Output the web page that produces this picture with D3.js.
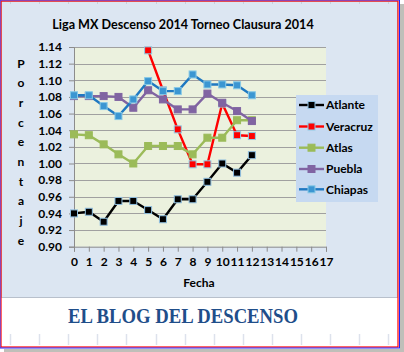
<!DOCTYPE html>
<html><head><meta charset="utf-8">
<script src="https://cdn.jsdelivr.net/npm/d3@7"></script>
<style>html,body{margin:0;padding:0;background:#fff;}svg{display:block;}</style>
</head><body>
<svg id="c" width="404" height="352"></svg>
<script>
const fechas = [0,1,2,3,4,5,6,7,8,9,10,11,12];
const atlante  = [0.940,0.942,0.930,0.955,0.955,0.944,0.933,0.957,0.957,0.978,1.000,0.989,1.010];
const veracruz = [null,null,null,null,null,1.136,1.088,1.041,0.999,0.999,1.072,1.034,1.033];
const atlas    = [1.035,1.034,1.023,1.011,1.000,1.021,1.021,1.021,1.011,1.031,1.031,1.052,1.052];
const puebla   = [1.081,1.081,1.081,1.080,1.067,1.088,1.077,1.065,1.065,1.084,1.073,1.063,1.051];
const chiapas  = [1.082,1.082,1.069,1.057,1.077,1.099,1.087,1.087,1.107,1.095,1.095,1.094,1.082];
const seriesNames = ["Atlante","Veracruz","Atlas","Puebla","Chiapas"];
const xTicks = [0,1,2,3,4,5,6,7,8,9,10,11,12,13,14,15,16,17];
const yTicks = [0.90,0.92,0.94,0.96,0.98,1.00,1.02,1.04,1.06,1.08,1.10,1.12,1.14];
const titleText = "Liga MX Descenso 2014 Torneo Clausura 2014";
const yLabel = "Porcentaje";
const xLabel = "Fecha";
const footer = "EL BLOG DEL DESCENSO";

const styles = {
  Atlante:  {line:"#000000", fill:"#000000", stroke:"#8fbfe0"},
  Veracruz: {line:"#ff0000", fill:"#ff0000", stroke:"#8fcbe6"},
  Atlas:    {line:"#9bbb59", fill:"#9bbb59", stroke:"#9bbb59"},
  Puebla:   {line:"#8064a2", fill:"#8064a2", stroke:"#8064a2"},
  Chiapas:  {line:"#1f78c1", fill:"#3b96d2", stroke:"#86c8e6"}
};
const values = {Atlante:atlante, Veracruz:veracruz, Atlas:atlas, Puebla:puebla, Chiapas:chiapas};

const svg = d3.select("#c");
const font = "Lato, 'Open Sans', sans-serif";

// shadow
svg.append("rect").attr("x",4).attr("y",4).attr("width",400).attr("height",348).attr("fill","#8a8a80").attr("opacity",0.55);
svg.append("rect").attr("x",0).attr("y",0).attr("width",400).attr("height",349).attr("fill","#ffffff");
// chart area
svg.append("rect").attr("x",1.5).attr("y",1.5).attr("width",396).attr("height",296).attr("fill","#dce6f2").attr("stroke","#b8c0cc").attr("stroke-width",1);

// faint ruler ticks
const rulerX = d3.range(0,14).map(i=>10+i*29.1);
svg.selectAll(".rb").data(rulerX).enter().append("line")
  .attr("x1",d=>Math.round(d)+0.5).attr("x2",d=>Math.round(d)+0.5).attr("y1",334).attr("y2",345)
  .attr("stroke","#dde2ec").attr("stroke-width",1.5);
svg.selectAll(".rt").data(rulerX).enter().append("line")
  .attr("x1",d=>Math.round(d)+0.5).attr("x2",d=>Math.round(d)+0.5).attr("y1",2).attr("y2",4)
  .attr("stroke","#c8d0dc").attr("stroke-width",1);

const x = d3.scaleLinear().domain([0,17]).range([74,326]);
const y = d3.scaleLinear().domain([0.90,1.14]).range([246.7,47]);

// plot area
svg.append("rect").attr("x",x(0)).attr("y",y(1.14)).attr("width",x(17)-x(0)).attr("height",y(0.90)-y(1.14)).attr("fill","#ebf1de");

// gridlines
svg.append("g").selectAll("line").data(yTicks.slice(1)).enter().append("line")
  .attr("x1",x(0)).attr("x2",x(17)).attr("y1",d=>Math.round(y(d))+0.5).attr("y2",d=>Math.round(y(d))+0.5)
  .attr("stroke","#a0a0a0").attr("stroke-width",1);

// axes
const yAxis = svg.append("g").attr("transform",`translate(${x(0)},0)`)
  .call(d3.axisLeft(y).tickValues(yTicks).tickFormat(d3.format(".2f")).tickSize(5).tickPadding(7));
const xAxis = svg.append("g").attr("transform",`translate(0,${y(0.90)})`)
  .call(d3.axisBottom(x).tickValues(xTicks).tickFormat(d3.format("d")).tickSize(5).tickPadding(6));
[yAxis,xAxis].forEach(a=>{
  a.select(".domain").attr("stroke","#8c8c8c");
  a.selectAll(".tick line").attr("stroke","#8c8c8c");
  a.selectAll("text").attr("font-family",font).attr("font-weight","bold").attr("font-size","12px").attr("fill","#000");
});

// lines
const line = d3.line().defined(d=>d.v!==null).x(d=>x(d.f)).y(d=>y(d.v));
seriesNames.forEach(name=>{
  const st = styles[name];
  const data = fechas.map((f,i)=>({f:f, v:values[name][i]}));
  const g = svg.append("g");
  g.append("path").datum(data).attr("d",line).attr("fill","none").attr("stroke",st.line).attr("stroke-width",2.4).attr("stroke-linejoin","round");
  g.selectAll("rect").data(data.filter(d=>d.v!==null)).enter().append("rect")
    .attr("x",d=>x(d.f)-3.5).attr("y",d=>y(d.v)-3.5).attr("width",7).attr("height",7)
    .attr("fill",st.fill).attr("stroke",st.stroke).attr("stroke-width",1);
});

// title
svg.append("text").attr("x",183).attr("y",29).attr("text-anchor","middle")
  .attr("font-family",font).attr("font-weight","bold").attr("font-size","12.6px").text(titleText);

// y label stacked
const yl = svg.append("text").attr("font-family",font).attr("font-weight","bold").attr("font-size","12px").attr("text-anchor","middle");
yLabel.split("").forEach((ch,i)=>{
  yl.append("tspan").attr("x",21).attr("y",67.5+i*19.7).text(ch);
});

// x label
svg.append("text").attr("x",199).attr("y",287).attr("text-anchor","middle")
  .attr("font-family",font).attr("font-weight","bold").attr("font-size","12px").text(xLabel);

// legend
const lg = svg.append("g");
lg.append("rect").attr("x",296).attr("y",95).attr("width",82).attr("height",107).attr("fill","#c6d9f1");
const ly = [105,126.5,147.7,169,189.3];
seriesNames.forEach((name,i)=>{
  const st = styles[name];
  lg.append("line").attr("x1",299).attr("x2",324).attr("y1",ly[i]).attr("y2",ly[i]).attr("stroke",st.line).attr("stroke-width",2.4);
  lg.append("rect").attr("x",311.5-3.5).attr("y",ly[i]-3.5).attr("width",7).attr("height",7).attr("fill",st.fill).attr("stroke",st.stroke);
  lg.append("text").attr("x",326).attr("y",ly[i]+4.3).attr("font-family",font).attr("font-weight","bold").attr("font-size","12px").text(name);
});

// footer
svg.append("text").attr("x",68).attr("y",323).attr("font-family","'Liberation Serif','DejaVu Serif',serif").attr("font-weight","bold")
  .attr("font-size","21px").attr("fill","#1f4e8a").attr("textLength",230).attr("lengthAdjust","spacingAndGlyphs").text(footer);

// border
svg.append("rect").attr("x",1).attr("y",1).attr("width",397).attr("height",346).attr("fill","none").attr("stroke","#ff0000").attr("stroke-width",1.2);
svg.append("rect").attr("x",0).attr("y",0).attr("width",399.5).attr("height",348).attr("fill","none").attr("stroke","#2020ff").attr("stroke-width",1);
</script>
</body></html>
